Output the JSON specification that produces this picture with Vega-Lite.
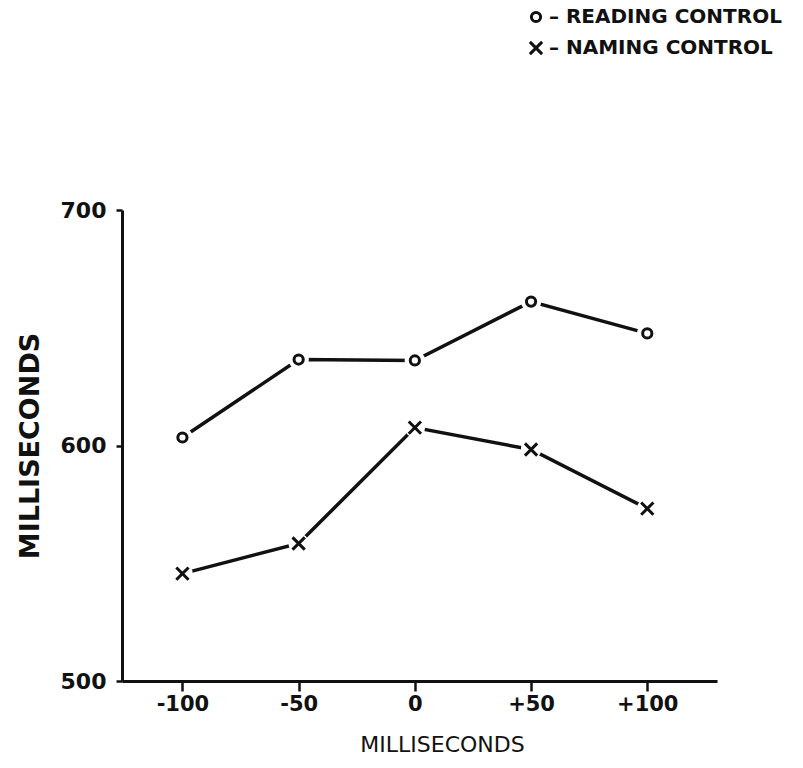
{
  "$schema": "https://vega.github.io/schema/vega-lite/v6.json",
  "width": 595,
  "height": 471,
  "autosize": "none",
  "padding": {"left": 122, "top": 210, "right": 86, "bottom": 87},
  "background": "white",
  "data": {
    "values": [
      {"series": "READING CONTROL", "soa": -100, "rt": 603.4},
      {"series": "READING CONTROL", "soa": -50, "rt": 636.5},
      {"series": "READING CONTROL", "soa": 0, "rt": 636.1},
      {"series": "READING CONTROL", "soa": 50, "rt": 661.1},
      {"series": "READING CONTROL", "soa": 100, "rt": 647.6},
      {"series": "NAMING CONTROL", "soa": -100, "rt": 545.6},
      {"series": "NAMING CONTROL", "soa": -50, "rt": 558.4},
      {"series": "NAMING CONTROL", "soa": 0, "rt": 607.6},
      {"series": "NAMING CONTROL", "soa": 50, "rt": 598.3},
      {"series": "NAMING CONTROL", "soa": 100, "rt": 573.2}
    ]
  },
  "encoding": {
    "x": {
      "field": "soa",
      "type": "quantitative",
      "scale": {"domain": [-126, 130], "nice": false},
      "axis": {
        "values": [-100, -50, 0, 50, 100],
        "labelExpr": "datum.value > 0 ? '+' + datum.value : '' + datum.value",
        "tickSize": 10,
        "labelFontSize": 21,
        "labelFontWeight": "bold",
        "labelPadding": 2,
        "title": "MILLISECONDS",
        "titleFontSize": 22,
        "titleFontWeight": "normal",
        "titlePadding": 20,
        "titleX": 320
      }
    },
    "y": {
      "field": "rt",
      "type": "quantitative",
      "scale": {"domain": [500, 700], "nice": false, "zero": false},
      "axis": {
        "values": [500, 600, 700],
        "tickSize": 6,
        "labelFontSize": 22,
        "labelFontWeight": "bold",
        "labelPadding": 10,
        "title": "MILLISECONDS",
        "titleFontSize": 27,
        "titleFontWeight": "bold",
        "titlePadding": 16
      }
    }
  },
  "layer": [
    {
      "mark": {"type": "line", "color": "#111", "strokeWidth": 3.5},
      "encoding": {"detail": {"field": "series"}}
    },
    {
      "mark": {"type": "point", "filled": true, "color": "white", "size": 420, "opacity": 1, "shape": "circle", "strokeWidth": 0}
    },
    {
      "mark": {"type": "point", "filled": false, "color": "#111", "strokeWidth": 3, "opacity": 1},
      "encoding": {
        "shape": {
          "field": "series",
          "type": "nominal",
          "scale": {"domain": ["READING CONTROL", "NAMING CONTROL"], "range": ["circle", "M-1,-1L1,1M1,-1L-1,1"]},
          "legend": {"title": null, "labelExpr": "'– ' + datum.label"}
        },
        "size": {
          "field": "series",
          "type": "nominal",
          "scale": {"domain": ["READING CONTROL", "NAMING CONTROL"], "range": [85, 150]},
          "legend": {"title": null, "labelExpr": "'– ' + datum.label"}
        }
      }
    }
  ],
  "config": {
    "view": {"stroke": null},
    "axis": {
      "grid": false,
      "domainColor": "#111",
      "domainWidth": 3,
      "tickColor": "#111",
      "tickWidth": 2.5,
      "labelColor": "#111",
      "titleColor": "#111",
      "labelFont": "DejaVu Sans",
      "titleFont": "DejaVu Sans"
    },
    "legend": {
      "orient": "none",
      "legendX": 404,
      "legendY": -203,
      "labelFont": "DejaVu Sans",
      "labelFontSize": 20,
      "labelFontWeight": "bold",
      "labelColor": "#111",
      "labelLimit": 400,
      "labelOffset": 3,
      "rowPadding": 7,
      "symbolStrokeWidth": 3,
      "symbolStrokeColor": "#111"
    }
  }
}
